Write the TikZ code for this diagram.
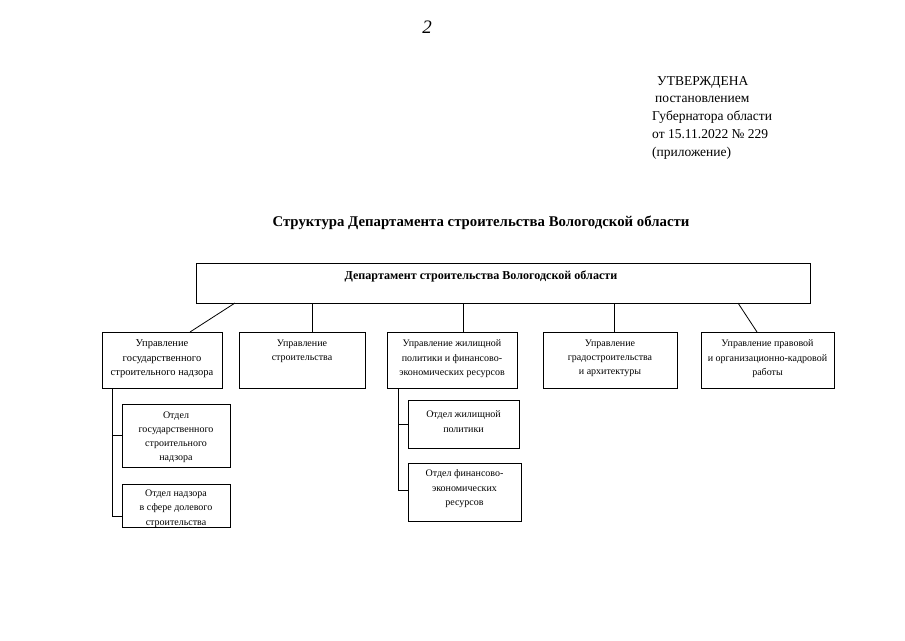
\documentclass[tikz,border=0pt]{standalone}
\usepackage{fontspec}
\setmainfont{Liberation Serif}
\usetikzlibrary{calc}
\tikzset{
  box/.style={draw=black, line width=0.9pt, inner sep=0pt, outer sep=0pt, anchor=north west},
  txt/.style={inner sep=0pt, outer sep=0pt, anchor=north, align=center, font=\fontsize{10}{14.2}\selectfont},
  link/.style={draw=black, line width=0.8pt},
}
\begin{document}
\begin{tikzpicture}[x=1pt,y=-1pt]
\path[use as bounding box, fill=white] (0,0) rectangle (905,640);

% page number
\node[inner sep=0pt, font=\fontsize{19}{19}\selectfont\itshape] (pg) at (427,27) {2};

% approval block
\node[inner sep=0pt, anchor=north west, align=left, font=\fontsize{13.5}{17.8}\selectfont] (appr) at (652,76)
 {\hspace{5pt}УТВЕРЖДЕНА\\\hspace{3pt}постановлением\\Губернатора области\\от 15.11.2022 № 229\\(приложение)};

% title
\node[inner sep=0pt, font=\fontsize{14.8}{15}\selectfont\bfseries] (title) at (481,223)
 {Структура Департамента строительства Вологодской области};

% main box
\node[box, minimum width=614pt, minimum height=40pt] (main) at (196,263) {};
\node[txt, font=\fontsize{12.1}{14}\selectfont\bfseries] (maint) at ([xshift=-22pt,yshift=-8pt]main.north) {Департамент строительства Вологодской области};

% second level
\node[box, minimum width=120pt, minimum height=56pt] (b1) at (102,332) {};
\node[box, minimum width=126pt, minimum height=56pt] (b2) at (239,332) {};
\node[box, minimum width=130pt, minimum height=56pt] (b3) at (387,332) {};
\node[box, minimum width=134pt, minimum height=56pt] (b4) at (543,332) {};
\node[box, minimum width=133pt, minimum height=56pt] (b5) at (701,332) {};

\node[txt, font=\fontsize{10.5}{14.2}\selectfont] (b1t) at ([yshift=-8pt]b1.north) {Управление\\государственного\\строительного надзора};
\node[txt] (b2t) at ([yshift=-8pt]b2.north) {Управление\\строительства};
\node[txt] (b3t) at ([yshift=-8pt]b3.north) {Управление жилищной\\политики и финансово-\\экономических ресурсов};
\node[txt] (b4t) at ([yshift=-8pt]b4.north) {Управление\\градостроительства\\и архитектуры};
\node[txt] (b5t) at ([yshift=-8pt]b5.north) {Управление правовой\\и организационно-кадровой\\работы};

% third level
\node[box, minimum width=108pt, minimum height=63pt] (s1) at (122,404) {};
\node[box, minimum width=108pt, minimum height=43pt] (s2) at (122,484) {};
\node[box, minimum width=111pt, minimum height=48pt] (s3) at (408,400) {};
\node[box, minimum width=113pt, minimum height=58pt] (s4) at (408,463) {};

\node[txt] (s1t) at ([yshift=-7.5pt]s1.north) {Отдел\\государственного\\строительного\\надзора};
\node[txt] (s2t) at ([yshift=-6pt]s2.north) {Отдел надзора\\в сфере долевого\\строительства};
\node[txt] (s3t) at ([yshift=-11pt]s3.north) {Отдел жилищной\\политики};
\node[txt] (s4t) at ([yshift=-7pt]s4.north) {Отдел финансово-\\экономических\\ресурсов};

% connectors
\draw[link] ([xshift=39pt]main.south west) -- ([xshift=-32pt]b1.north east);
\draw[link] ([xshift=116pt]main.south west) -- ([xshift=73pt]b2.north west);
\draw[link] ([xshift=267pt]main.south west) -- ([xshift=76pt]b3.north west);
\draw[link] ([xshift=418pt]main.south west) -- ([xshift=71pt]b4.north west);
\draw[link] ([xshift=542pt]main.south west) -- ([xshift=56pt]b5.north west);

\draw[link] ([xshift=10pt]b1.south west) |- ([yshift=-10.5pt]s2.west);
\draw[link] (s1.west) -- ++(-10,0);
\draw[link] ([xshift=11pt]b3.south west) |- ([yshift=2pt]s4.west);
\draw[link] (s3.west) -- ++(-10,0);
\end{tikzpicture}
\end{document}
